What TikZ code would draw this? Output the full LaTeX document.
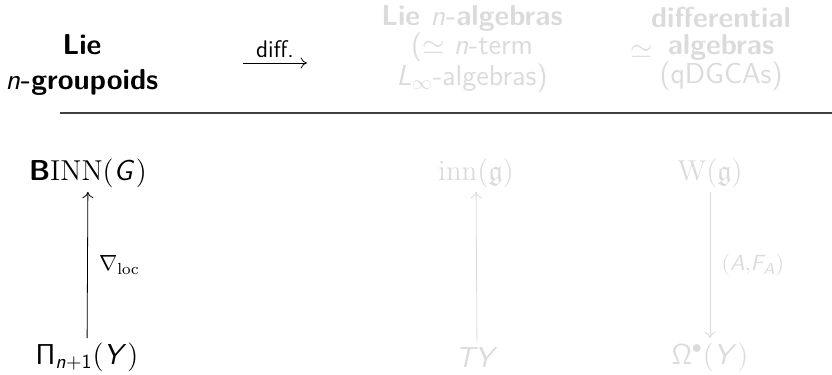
\documentclass[11pt,tikz,border=0pt]{standalone}
\usepackage{amsmath}
\usepackage{amssymb}
\usepackage{xcolor}
\usepackage{tikz}
\usetikzlibrary{arrows.meta, positioning}
\renewcommand{\familydefault}{\sfdefault}
\DeclareMathAlphabet{\mathsfit}{OT1}{cmss}{m}{sl}
\definecolor{covered}{gray}{0.86}
\definecolor{rulegray}{HTML}{404040}

\begin{document}
\begin{tikzpicture}[
  x=0.5pt, y=-0.5pt,
  head/.style={align=center, inner sep=0pt, font=\fontsize{14.4}{17.5}\selectfont},
  obj/.style={inner sep=2pt, font=\fontsize{14.4}{17}\selectfont},
  map/.style={-{To[length=3.2pt, width=5.5pt]}, thin},
  maplabel/.style={font=\normalsize, right=2pt},
]
\useasboundingbox (0,0) rectangle (832,375);

% Header row
\node[head] (hgrp) at (82,65) {\textbf{Lie}\\$\mathsfit{n}$\textbf{-groupoids}};
\coordinate (dl) at (243,63);
\coordinate (dr) at (307,63);
\draw[map] (dl) -- node[above=-1pt, font=\large] (difflab) {diff.} (dr);
\node[head, covered, font=\fontsize{14.4}{13}\selectfont] (halg) at (472,49)
  {\textbf{Lie $\mathsfit{n}$-algebras}\\($\simeq$ $\mathsfit{n}$-term\\$\mathsfit{L}_\infty$-algebras)};
\node[head, covered] (hsim) at (642,52) {$\simeq$};
\node[head, covered, font=\fontsize{14.4}{13.5}\selectfont] (hdga) at (721,49)
  {\textbf{differential}\\\textbf{algebras}\\(qDGCAs)};

% Rule
\coordinate (rl) at (60,113);
\coordinate (rr) at (832,113);
\draw[rulegray, line width=0.6pt] (rl) -- (rr);

% Objects
\node[obj] (binn) at (88,173) {$\text{\bfseries B}\mathrm{INN}(\mathsfit{G})$};
\node[obj] (pi) at (87,357) {$\mathsf{\Pi}_{\mathsfit{n}+\mathsf{1}}(\mathsfit{Y})$};
\node[obj, covered] (inn) at (476,173) {$\mathrm{inn}(\mathfrak{g})$};
\node[obj, covered] (ty) at (477,357) {$\mathsfit{TY}$};
\node[obj, covered] (weil) at (710,173) {$\mathrm{W}(\mathfrak{g})$};
\node[obj, covered] (omega) at (710,357) {$\mathsf{\Omega}^\bullet(\mathsfit{Y})$};

% Maps
\draw[map] (pi) -- node[maplabel] (nabla) {$\nabla_{\mathrm{loc}}$} (binn);
\draw[map, covered] (ty) -- (inn);
\draw[map, covered] (weil) -- node[maplabel] (conn) {$(\mathsfit{A}{,}\mathsfit{F}_{\mathsfit{A}})$} (omega);
\end{tikzpicture}
\end{document}
